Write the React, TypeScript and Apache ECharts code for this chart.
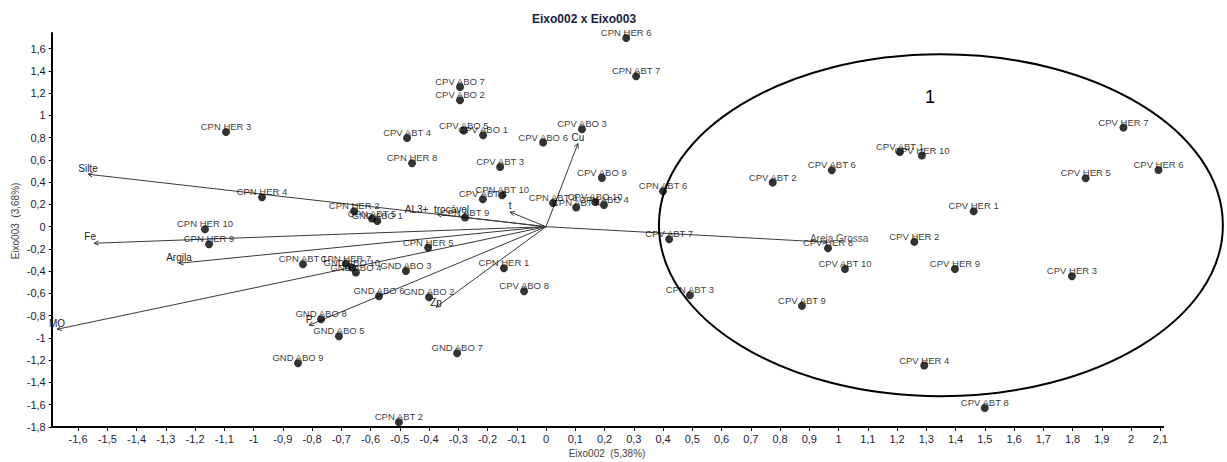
import { useEffect, useRef } from 'react';
import * as echarts from 'echarts';

// ---- data ----
const pointNames = [
  'CPN HER 1', 'CPN HER 2', 'CPN HER 3', 'CPN HER 4', 'CPN HER 5', 'CPN HER 6', 'CPN HER 7', 'CPN HER 8', 'CPN HER 9', 'CPN HER 10',
  'CPN ABT 1', 'CPN ABT 2', 'CPN ABT 3', 'CPN ABT 4', 'CPN ABT 5', 'CPN ABT 6', 'CPN ABT 7', 'CPN ABT 8', 'CPN ABT 9', 'CPN ABT 10',
  'CPV ABO 1', 'CPV ABO 2', 'CPV ABO 3', 'CPV ABO 4', 'CPV ABO 5', 'CPV ABO 6', 'CPV ABO 7', 'CPV ABO 8', 'CPV ABO 9', 'CPV ABO 10',
  'CPV ABT 1', 'CPV ABT 2', 'CPV ABT 3', 'CPV ABT 4', 'CPV ABT 5', 'CPV ABT 6', 'CPV ABT 7', 'CPV ABT 8', 'CPV ABT 9', 'CPV ABT 10',
  'CPV HER 1', 'CPV HER 2', 'CPV HER 3', 'CPV HER 4', 'CPV HER 5', 'CPV HER 6', 'CPV HER 7', 'CPV HER 8', 'CPV HER 9', 'CPV HER 10',
  'GND ABO 1', 'GND ABO 2', 'GND ABO 3', 'GND ABO 4', 'GND ABO 5', 'GND ABO 6', 'GND ABO 7', 'GND ABO 8', 'GND ABO 9', 'GND ABO 10',
];
const pointX = [
  -0.144, -0.656, -1.094, -0.971, -0.403, 0.274, -0.684, -0.458, -1.152, -1.166,
  -0.831, -0.503, 0.492, 0.103, -0.595, 0.4, 0.308, 0.024, -0.277, -0.15,
  -0.215, -0.294, 0.123, 0.198, -0.281, -0.01, -0.294, -0.075, 0.191, 0.168,
  1.21, 0.775, -0.157, -0.475, -0.216, 0.977, 0.421, 1.5, 0.875, 1.022,
  1.462, 1.259, 1.798, 1.293, 1.845, 2.094, 1.974, 0.964, 1.398, 1.285,
  -0.577, -0.4, -0.479, -0.65, -0.708, -0.571, -0.304, -0.769, -0.848, -0.664,
];
const pointY = [
  -0.374, 0.138, 0.851, 0.264, -0.188, 1.695, -0.332, 0.57, -0.158, -0.023,
  -0.338, -1.757, -0.616, 0.172, 0.073, 0.318, 1.351, 0.213, 0.082, 0.282,
  0.821, 1.136, 0.875, 0.195, 0.863, 0.756, 1.255, -0.58, 0.438, 0.222,
  0.671, 0.396, 0.536, 0.797, 0.246, 0.507, -0.113, -1.629, -0.712, -0.38,
  0.138, -0.137, -0.446, -1.248, 0.435, 0.509, 0.89, -0.194, -0.38, 0.639,
  0.051, -0.634, -0.398, -0.412, -0.985, -0.625, -1.137, -0.832, -1.227, -0.367,
];

const vectorNames = ['Silte', 'Fe', 'Argila', 'MO', 'P', 'Zn', 'Cu', 't', 'AL3+  trocável', 'Areia Grossa'];
const vectorX = [-1.566, -1.545, -1.255, -1.672, -0.81, -0.376, 0.109, -0.123, -0.373, 0.961];
const vectorY = [0.471, -0.149, -0.329, -0.922, -0.886, -0.724, 0.747, 0.132, 0.111, -0.14];

const xTicks = [-1.6, -1.5, -1.4, -1.3, -1.2, -1.1, -1, -0.9, -0.8, -0.7, -0.6, -0.5, -0.4, -0.3, -0.2, -0.1, 0,
  0.1, 0.2, 0.3, 0.4, 0.5, 0.6, 0.7, 0.8, 0.9, 1, 1.1, 1.2, 1.3, 1.4, 1.5, 1.6, 1.7, 1.8, 1.9, 2, 2.1];
const yTicks = [-1.8, -1.6, -1.4, -1.2, -1, -0.8, -0.6, -0.4, -0.2, 0, 0.2, 0.4, 0.6, 0.8, 1, 1.2, 1.4, 1.6];

const groupEllipse = [[1.35, 0.013, 0.964, 1.536]];
const groupLabel = [[1.313, 1.163, '1']];

const titleText = 'Eixo002 x Eixo003';
const xName = 'Eixo002  (5,38%)';
const yName = 'Eixo003  (3,68%)';

// label offsets (style only)
const vectorLabelOffset: Record<string, [number, number]> = {
  Fe: [-4, -7],
  'Areia Grossa': [12, -4],
  Zn: [0, -5],
  'AL3+  trocável': [0, -5],
};

const FONT = '"Liberation Sans", Arial, sans-serif';
const fmt = (v: number) => String(v).replace('.', ',');

export default function App() {
  const ref = useRef<HTMLDivElement>(null);
  useEffect(() => {
    if (!ref.current) return;
    const chart = echarts.init(ref.current, undefined, { renderer: 'svg' });
    const option: any = {
      animation: false,
      backgroundColor: '#fff',
      title: {
        text: titleText,
        left: 532,
        top: 13,
        padding: 0,
        textStyle: { fontFamily: FONT, fontSize: 12, fontWeight: 'bold', color: '#1b2142' },
      },
      grid: { left: 51.7, right: 63.8, top: 33, bottom: 35, containLabel: false },
      xAxis: {
        type: 'value',
        min: -1.69,
        max: 2.11,
        axisLine: { show: true, onZero: false, lineStyle: { color: '#000', width: 2 } },
        axisTick: { show: true, customValues: xTicks, length: 4, lineStyle: { color: '#000', width: 1 } },
        axisLabel: {
          customValues: xTicks,
          formatter: (v: number) => fmt(v),
          fontFamily: FONT,
          fontSize: 11,
          color: '#1a1c38',
          margin: 6,
        },
        splitLine: { show: false },
      },
      yAxis: {
        type: 'value',
        min: -1.8,
        max: 1.74,
        axisLine: { show: true, onZero: false, lineStyle: { color: '#000', width: 2 } },
        axisTick: { show: true, customValues: yTicks, length: 3, lineStyle: { color: '#000', width: 1 } },
        axisLabel: {
          customValues: yTicks,
          formatter: (v: number) => fmt(v),
          fontFamily: FONT,
          fontSize: 11,
          color: '#1a1c38',
          margin: 6,
        },
        splitLine: { show: false },
      },
      graphic: [
        {
          type: 'text',
          x: 607,
          y: 453,
          style: { text: xName, fontFamily: FONT, fontSize: 10, fill: '#444', textAlign: 'center', textVerticalAlign: 'middle' },
        },
        {
          type: 'text',
          x: 15,
          y: 221,
          rotation: Math.PI / 2,
          style: { text: yName, fontFamily: FONT, fontSize: 10, fill: '#444', textAlign: 'center', textVerticalAlign: 'middle' },
        },
      ],
      series: [
        {
          type: 'custom',
          silent: true,
          data: vectorNames.map((_, i) => [vectorX[i], vectorY[i]]),
          renderItem: (params: any, api: any) => {
            const o = api.coord([0, 0]);
            const p = api.coord([api.value(0), api.value(1)]);
            const ang = Math.atan2(p[1] - o[1], p[0] - o[0]);
            const L = 5;
            const a1 = ang + Math.PI - 0.45;
            const a2 = ang + Math.PI + 0.45;
            const name = vectorNames[params.dataIndex];
            const off = vectorLabelOffset[name] || [0, -6];
            return {
              type: 'group',
              children: [
                { type: 'line', shape: { x1: o[0], y1: o[1], x2: p[0], y2: p[1] }, style: { stroke: '#3a3a3a', lineWidth: 1 } },
                {
                  type: 'polyline',
                  shape: {
                    points: [
                      [p[0] + L * Math.cos(a1), p[1] + L * Math.sin(a1)],
                      [p[0], p[1]],
                      [p[0] + L * Math.cos(a2), p[1] + L * Math.sin(a2)],
                    ],
                  },
                  style: { stroke: '#3a3a3a', lineWidth: 1, fill: 'none' },
                },
                {
                  type: 'text',
                  x: p[0] + off[0],
                  y: p[1] + off[1],
                  style: { text: name, fontFamily: FONT, fontSize: 10, fill: name === 'Areia Grossa' ? '#555' : '#222', textAlign: 'center', textVerticalAlign: 'middle' },
                },
              ],
            };
          },
        },
        {
          type: 'custom',
          silent: true,
          data: groupEllipse,
          renderItem: (_params: any, api: any) => {
            const c = api.coord([api.value(0), api.value(1)]);
            const s = api.size([api.value(2), api.value(3)]);
            return {
              type: 'ellipse',
              shape: { cx: c[0], cy: c[1], rx: s[0], ry: s[1] },
              style: { fill: 'none', stroke: '#000', lineWidth: 2 },
            };
          },
        },
        {
          type: 'custom',
          silent: true,
          data: groupLabel,
          renderItem: (_params: any, api: any) => {
            const c = api.coord([api.value(0), api.value(1)]);
            return {
              type: 'text',
              x: c[0],
              y: c[1],
              style: { text: groupLabel[0][2] as string, fontFamily: FONT, fontSize: 18, fill: '#000', textAlign: 'center', textVerticalAlign: 'middle' },
            };
          },
        },
        {
          type: 'scatter',
          silent: true,
          symbol: 'circle',
          symbolSize: 8,
          itemStyle: { color: '#000' },
          data: pointNames.map((n, i) => ({ name: n, value: [pointX[i], pointY[i]] })),
          label: {
            show: true,
            position: [4, -1.5],
            align: 'center',
            verticalAlign: 'middle',
            formatter: '{b}',
            fontFamily: FONT,
            fontSize: 9.5,
            color: '#000',
          },
          labelLayout: { hideOverlap: false },
        },
      ],
    };
    chart.setOption(option);
    return () => chart.dispose();
  }, []);
  return <div ref={ref} style={{ position: 'fixed', left: 0, top: 0, width: 1227, height: 462 }} />;
}
